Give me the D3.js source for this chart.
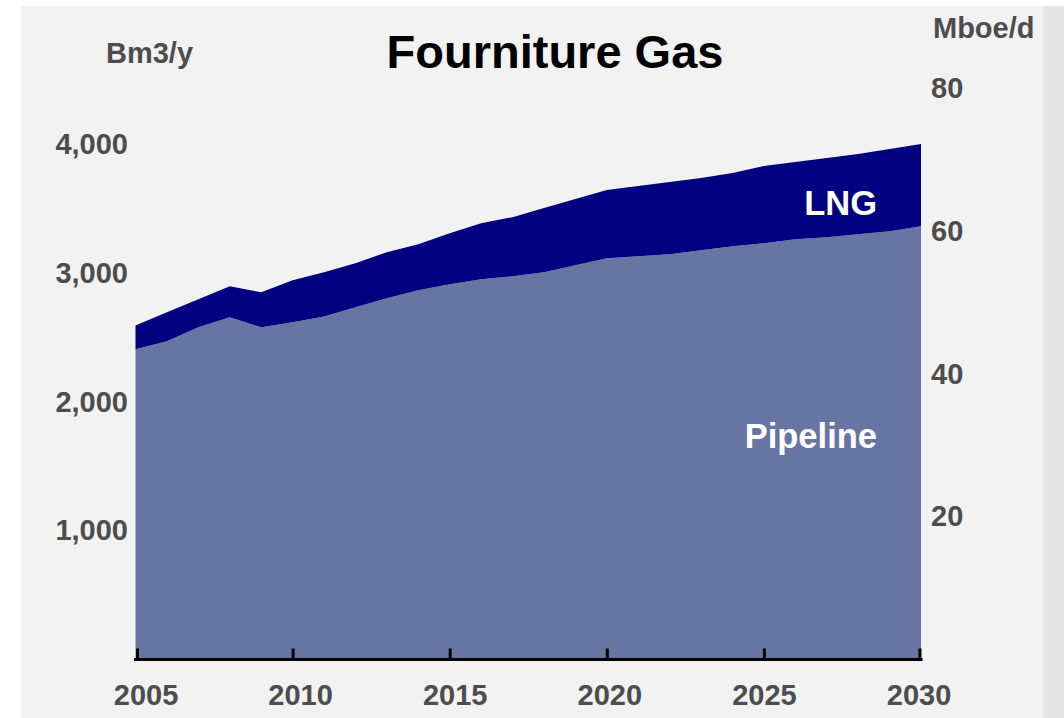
<!DOCTYPE html>
<html><head><meta charset="utf-8">
<script src="https://cdn.jsdelivr.net/npm/d3@7"></script>
<style>
html,body{margin:0;padding:0;background:#fff;}
svg{display:block;font-family:"Liberation Sans",Arial,sans-serif;}
</style></head>
<body><svg id="chart" width="1064" height="718"></svg>
<script>
const years = d3.range(2005, 2031);
const pipeline = [2405,2467,2576,2654,2576,2615,2661,2732,2802,2864,2911,2949,2973,3004,3058,3113,3128,3144,3175,3206,3230,3261,3276,3300,3323,3362];
const lng = [186,226,218,241,272,327,343,342,358,358,396,436,459,498,514,529,545,560,560,568,599,599,615,622,638,638];
const leftTicks = [1000,2000,3000,4000];
const rightTicks = [20,40,60,80];
const xTicks = [2005,2010,2015,2020,2025,2030];
const title = "Fourniture Gas";
const leftUnit = "Bm3/y";
const rightUnit = "Mboe/d";
const seriesNames = ["Pipeline","LNG"];

const svg = d3.select("#chart");
svg.append("rect").attr("x",0).attr("y",0).attr("width",1064).attr("height",718).attr("fill","#fff");
svg.append("rect").attr("x",21).attr("y",6).attr("width",1022).attr("height",712).attr("fill","#f2f2f2");
svg.append("rect").attr("x",1043).attr("y",6).attr("width",21).attr("height",712).attr("fill","#e6e6e6");

const x = d3.scaleLinear().domain([2005,2030]).range([135.5,921]);
const y = d3.scaleLinear().domain([0,4000]).range([659,144]);
const yR = d3.scaleLinear().domain([0,80]).range([659,88]);

const data = years.map((yr,i)=>({year:yr, Pipeline:pipeline[i], LNG:lng[i]}));
const stack = d3.stack().keys(seriesNames)(data);
const colors = {Pipeline:"#6775a3", LNG:"#000080"};
const area = d3.area().x(d=>x(d.data.year)).y0(d=>y(d[0])).y1(d=>y(d[1]));
svg.selectAll("path.layer").data(stack).join("path").attr("class","layer")
  .attr("d",area).attr("fill",d=>colors[d.key]);

const gray = "#4d4d4d";
const fs = 29;
// left axis labels
svg.append("g").selectAll("text").data(leftTicks).join("text")
  .attr("x",128).attr("y",d=>y(d)).attr("dy","0.35em").attr("text-anchor","end")
  .attr("font-size",fs).attr("font-weight","bold").attr("fill",gray)
  .text(d=>d3.format(",")(d));
// right axis labels
svg.append("g").selectAll("text").data(rightTicks).join("text")
  .attr("x",931).attr("y",d=>yR(d)).attr("dy","0.35em").attr("text-anchor","start")
  .attr("font-size",fs).attr("font-weight","bold").attr("fill",gray)
  .text(d=>d);
// x axis
const xAxis = d3.axisBottom(x).tickValues(xTicks).tickFormat(d3.format("d")).tickSizeInner(-11).tickSizeOuter(0);
const gx = svg.append("g").attr("transform","translate(0,659.5)").call(xAxis);
gx.select(".domain").attr("stroke","#000").attr("stroke-width",3).attr("d",`M${x(2005)-1.5},0H${x(2030)+1.5}`);
gx.selectAll(".tick line").attr("stroke","#000").attr("stroke-width",3)
  .attr("transform",d=> d===2005?"translate(1.5,0)": d===2030?"translate(-1.5,0)":null);
gx.selectAll(".tick text").attr("y",35).attr("dy","0.35em").attr("font-size",fs)
  .attr("x",d=>10 - (d-2005)*0.5)
  .attr("font-weight","bold").attr("fill",gray).attr("font-family","Liberation Sans, Arial, sans-serif");

// units
svg.append("text").attr("x",106).attr("y",63).attr("font-size",fs).attr("font-weight","bold").attr("fill",gray).text(leftUnit);
svg.append("text").attr("x",933).attr("y",38).attr("font-size",fs).attr("font-weight","bold").attr("fill",gray).text(rightUnit);
// title
svg.append("text").attr("x",555).attr("y",68).attr("text-anchor","middle").attr("font-size",47).attr("font-weight","bold").attr("fill","#000").text(title);
// series labels
svg.append("text").attr("x",877).attr("y",215).attr("text-anchor","end").attr("font-size",34.5).attr("font-weight","bold").attr("fill","#fff").text(seriesNames[1]);
svg.append("text").attr("x",877).attr("y",448).attr("text-anchor","end").attr("font-size",34.5).attr("font-weight","bold").attr("fill","#fff").text(seriesNames[0]);
</script></body></html>
